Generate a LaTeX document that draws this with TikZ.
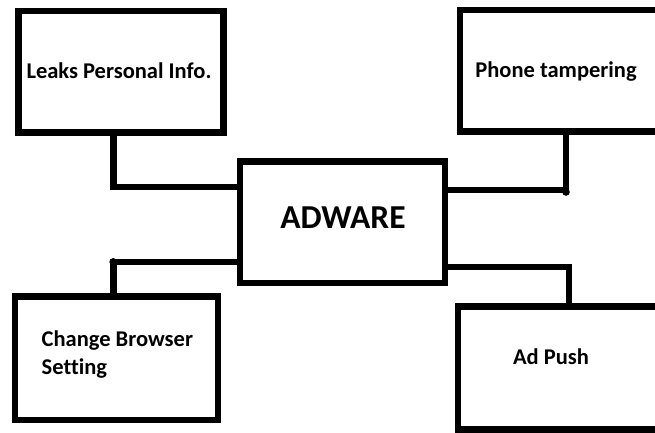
\documentclass[tikz,border=0pt]{standalone}
\usepackage{fontspec}
\setmainfont{Carlito}[Ligatures={NoCommon}]
\begin{document}
\begin{tikzpicture}[x=1pt,y=-1pt,
  box/.style={draw=black, line width=6.5pt, rectangle, inner sep=0pt, fill=white},
  wire/.style={draw=black, line width=6.5pt, line join=miter},
  lbl/.style={font=\fontsize{22.5}{27.5}\selectfont\bfseries, inner sep=0pt, align=left},
  big/.style={font=\fontsize{33.5}{38}\selectfont\bfseries, inner sep=0pt}]
\useasboundingbox (0,0) rectangle (655,432);
\clip (0,0) rectangle (655,432);
\fill[white] (0,0) rectangle (655,432);
% boxes
\node[box, minimum width=205pt, minimum height=121.5pt] (leaks) at (121,71.75) {};
\node[box, minimum width=260pt, minimum height=121.5pt] (phone) at (590,70.75) {};
\node[box, minimum width=205pt, minimum height=121.5pt] (adware) at (342.5,222.25) {};
\node[box, minimum width=203pt, minimum height=123.3pt] (change) at (116.5,358.35) {};
\node[box, minimum width=262pt, minimum height=122.8pt] (adpush) at (589,368.1) {};
% labels
\node[lbl] (tleaks) at (119,71) {Leaks Personal Info.};
\node[lbl] (tphone) at (556,72) {Phone tampering};
\node[big] (tadware) at (343,218) {ADWARE};
\node[lbl, anchor=north west] (tchange) at (41.5,331) {Change Browser\\Setting};
\node[lbl] (tadpush) at (551,357) {Ad Push};
% connectors
\coordinate (c1) at (113.5,187);
\coordinate (c2) at (566,190);
\coordinate (c3) at (113.3,262);
\coordinate (c4) at (569,267);
\draw[wire] (leaks.south -| c1) -- (c1) -- (adware.west |- c1);
\draw[wire] (adware.east |- c2) -- (c2) -- (phone.south -| c2);
\draw[wire] (adware.west |- c3) -- (c3) -- (change.north -| c3);
\draw[wire] (adware.east |- c4) -- (c4) -- (adpush.north -| c4);
\fill (566,192) circle (3.8pt);
\fill (113.3,262) circle (4pt);
\end{tikzpicture}
\end{document}
